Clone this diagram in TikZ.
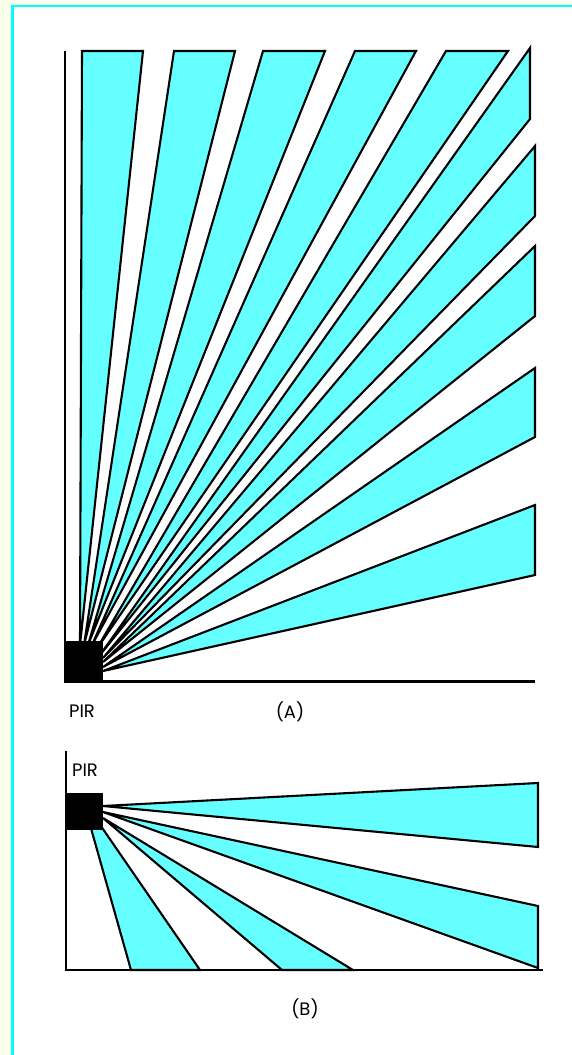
\documentclass[tikz,border=0pt]{standalone}
\usepackage{fontspec}
\setmainfont{Poppins}
\definecolor{wedgefill}{HTML}{66FFFF}
\definecolor{framecyan}{HTML}{00FFFF}
\definecolor{outer}{HTML}{FAFFEC}
\tikzset{
  wedge/.style={draw=black,fill=wedgefill,line width=2.1pt,line join=miter},
  axis/.style={draw=black,line width=2.1pt},
  lbl/.style={font=\fontsize{18}{20}\selectfont,text=black,inner sep=0pt}
}
\begin{document}
\begin{tikzpicture}[x=1pt,y=-1pt]
\useasboundingbox (0,0) rectangle (572,1055);
\fill[outer] (0,0) rectangle (572,1055);
\fill[white] (12.5,6) rectangle (572,1055);
\draw[framecyan,line width=2.6pt] (12.5,1055) -- (12.5,6) -- (572,6);
% Panel A
\foreach \ax/\ay/\bx/\by/\cx/\cy in {
  80/645/82/51/143/51,
  84/645/174/51/235/51,
  88/645/263/51/325/51,
  92/645/355/51/416/51,
  96/650/446/51/508/51,
  100/655/530/48/530/119,
  103/658/535/146/535/216,
  103/662/535/246/535/316,
  103/667/535/368/535/437,
  103/671/535/505/535/575}
  \draw[wedge] (\ax,\ay) -- (\bx,\by) -- (\cx,\cy) -- cycle;
\draw[axis] (65,51) -- (65,681.5) -- (535,681.5);
\fill[black] (64,641) rectangle (103,681);
\node[lbl] (pira) at (82,711) {PIR};
\node[lbl] (capa) at (290,712) {(A)};
% Panel B
\draw[wedge] (103,806) -- (538,783) -- (538,847) -- cycle;
\draw[wedge] (103,812) -- (538,906) -- (538,968) -- cycle;
\draw[wedge] (103,818) -- (353,970) -- (282,970) -- cycle;
\draw[wedge] (83,800) -- (200,970) -- (131,970) -- cycle;
\draw[axis] (66,751) -- (66,970) -- (543,970);
\fill[black] (66,793) rectangle (103,830);
\node[lbl] (pirb) at (85,770) {PIR};
\node[lbl] (capb) at (305,1009) {(B)};
\end{tikzpicture}
\end{document}
